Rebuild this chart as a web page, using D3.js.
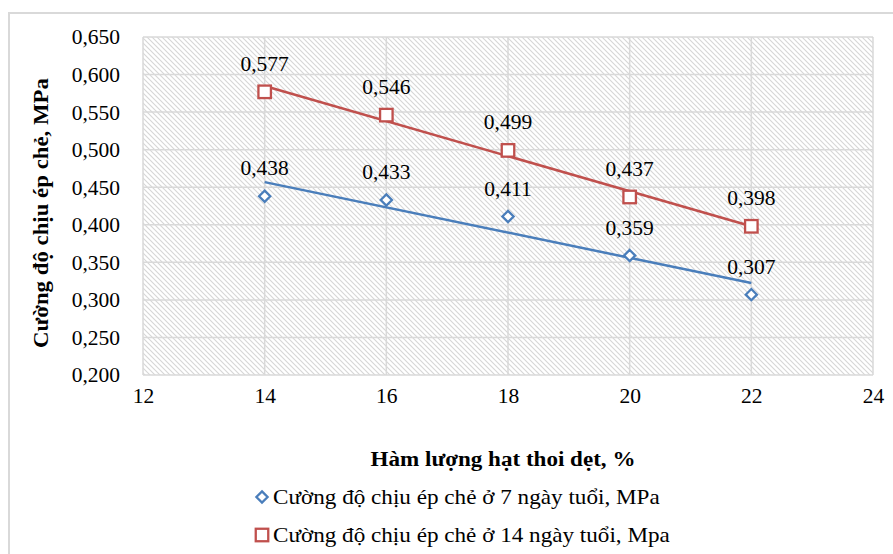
<!DOCTYPE html>
<html>
<head>
<meta charset="utf-8">
<script src="https://cdn.jsdelivr.net/npm/d3@7"></script>
<style>
  html, body { margin: 0; padding: 0; background: #fff; }
  svg { display: block; font-family: "Liberation Serif", "Times New Roman", serif; }
</style>
</head>
<body>
<svg id="chart" width="893" height="554"></svg>
<script>
const xValues = [14, 16, 18, 20, 22];
const series7 = [0.438, 0.433, 0.411, 0.359, 0.307];
const series14 = [0.577, 0.546, 0.499, 0.437, 0.398];
const seriesNames = ["Cường độ chịu ép chẻ ở 7 ngày tuổi, MPa", "Cường độ chịu ép chẻ ở 14 ngày tuổi, Mpa"];
const seriesColors = ["#4a7ebb", "#c0504d"];
const xTicks = [12, 14, 16, 18, 20, 22, 24];
const yTicks = [0.2, 0.25, 0.3, 0.35, 0.4, 0.45, 0.5, 0.55, 0.6, 0.65];
const xTitle = "Hàm lượng hạt thoi dẹt, %";
const yTitle = "Cường độ chịu ép chẻ, MPa";

const svg = d3.select("#chart");
const L = 143, R = 873, T = 37, B = 375;
const x = d3.scaleLinear().domain([12, 24]).range([L, R]);
const y = d3.scaleLinear().domain([0.2, 0.65]).range([B, T]);
const fmt = v => d3.format(".3f")(v).replace(".", ",");
const FS = 21.5;

// stretch a left/center anchored text horizontally to a target width
function fitWidth(sel, target, anchorX) {
  const w = sel.node().getComputedTextLength();
  const k = target / w;
  sel.attr("transform", `translate(${anchorX},0) scale(${k},1) translate(${-anchorX},0)`);
}

// outer frame
svg.append("rect").attr("x", 9).attr("y", 13).attr("width", 900).attr("height", 560)
  .attr("fill", "#fff").attr("stroke", "#d9d9d9").attr("stroke-width", 2);

// hatch pattern
const defs = svg.append("defs");
const pat = defs.append("pattern").attr("id", "hatch").attr("patternUnits", "userSpaceOnUse")
  .attr("width", 5).attr("height", 5);
pat.append("rect").attr("width", 5).attr("height", 5).attr("fill", "#fff");
pat.append("path").attr("d", "M-1,-1 L6,6 M-1,4 L1,6 M4,-1 L6,1")
  .attr("stroke", "#d6d6d6").attr("stroke-width", 1.1);

svg.append("rect").attr("x", L).attr("y", T).attr("width", R - L).attr("height", B - T)
  .attr("fill", "url(#hatch)");

// gridlines
const grid = svg.append("g");
grid.selectAll("line.h").data(yTicks).join("line")
  .attr("x1", L).attr("x2", R).attr("y1", d => y(d)).attr("y2", d => y(d))
  .attr("stroke", "#d9d9d9").attr("stroke-width", 1.5);
grid.selectAll("line.v").data(xTicks).join("line")
  .attr("y1", T).attr("y2", B).attr("x1", d => x(d)).attr("x2", d => x(d))
  .attr("stroke", "#d9d9d9").attr("stroke-width", 1.5);

// axes via d3 axis (labels only)
const yAxis = svg.append("g").attr("transform", `translate(${L},0)`)
  .call(d3.axisLeft(y).tickValues(yTicks).tickFormat(fmt).tickSize(0).tickPadding(23));
yAxis.select(".domain").remove();
yAxis.selectAll("text").attr("font-size", FS).attr("fill", "#000")
  .attr("font-family", "Liberation Serif");

const xAxis = svg.append("g").attr("transform", `translate(0,${B})`)
  .call(d3.axisBottom(x).tickValues(xTicks).tickFormat(d3.format("d")).tickSize(0).tickPadding(13));
xAxis.select(".domain").remove();
xAxis.selectAll("text").attr("font-size", FS).attr("fill", "#000")
  .attr("font-family", "Liberation Serif");

// axis titles
const xt = svg.append("text").attr("x", 503).attr("y", 466).attr("text-anchor", "middle")
  .attr("font-size", 22).attr("font-weight", "bold").text(xTitle);
fitWidth(xt, 265, 503);
const ytG = svg.append("g").attr("transform", `translate(48,213) rotate(-90)`);
const yt = ytG.append("text").attr("x", 0).attr("y", 0)
  .attr("text-anchor", "middle").attr("font-size", 22).attr("font-weight", "bold").text(yTitle);
fitWidth(yt, 270, 0);

// trendlines (linear least squares)
function linreg(xs, ys) {
  const mx = d3.mean(xs), my = d3.mean(ys);
  const num = d3.sum(xs.map((xi, i) => (xi - mx) * (ys[i] - my)));
  const den = d3.sum(xs.map(xi => (xi - mx) ** 2));
  const b = num / den;
  return xv => my + b * (xv - mx);
}
const allSeries = [series7, series14];
const line = d3.line().x(d => x(d[0])).y(d => y(d[1]));
allSeries.forEach((s, i) => {
  const f = linreg(xValues, s);
  const ext = d3.extent(xValues);
  svg.append("path").datum(ext.map(v => [v, f(v)])).attr("d", line)
    .attr("fill", "none").attr("stroke", seriesColors[i]).attr("stroke-width", 2.5);
});

// markers
const diamond = (cx, cy, r) => `M${cx},${cy - r} L${cx + r},${cy} L${cx},${cy + r} L${cx - r},${cy} Z`;
const SQ = 12.5;
svg.append("g").selectAll("path").data(xValues.map((v, i) => [v, series7[i]])).join("path")
  .attr("d", d => diamond(x(d[0]), y(d[1]), 5.6))
  .attr("fill", "#fff").attr("stroke", seriesColors[0]).attr("stroke-width", 2.3);
svg.append("g").selectAll("rect").data(xValues.map((v, i) => [v, series14[i]])).join("rect")
  .attr("x", d => x(d[0]) - SQ / 2).attr("y", d => y(d[1]) - SQ / 2).attr("width", SQ).attr("height", SQ)
  .attr("fill", "#fff").attr("stroke", seriesColors[1]).attr("stroke-width", 2.3);

// data labels
allSeries.forEach(s => {
  svg.append("g").selectAll("text").data(xValues.map((v, i) => [v, s[i]])).join("text")
    .attr("x", d => x(d[0])).attr("y", d => y(d[1]) - 21)
    .attr("text-anchor", "middle").attr("font-size", FS).attr("fill", "#000")
    .text(d => fmt(d[1]));
});

// legend
const lg = svg.append("g");
const legendWidths = [387, 397];
seriesNames.forEach((name, i) => {
  const cy = 497 + i * 38;
  if (i === 0) {
    lg.append("path").attr("d", diamond(262, cy, 5.6)).attr("fill", "#fff")
      .attr("stroke", seriesColors[0]).attr("stroke-width", 2.3);
  } else {
    lg.append("rect").attr("x", 262 - SQ / 2).attr("y", cy - SQ / 2).attr("width", SQ).attr("height", SQ)
      .attr("fill", "#fff").attr("stroke", seriesColors[1]).attr("stroke-width", 2.3);
  }
  const t = lg.append("text").attr("x", 273).attr("y", cy + 7).attr("font-size", FS).attr("fill", "#000").text(name);
  fitWidth(t, legendWidths[i], 273);
});
</script>
</body>
</html>
